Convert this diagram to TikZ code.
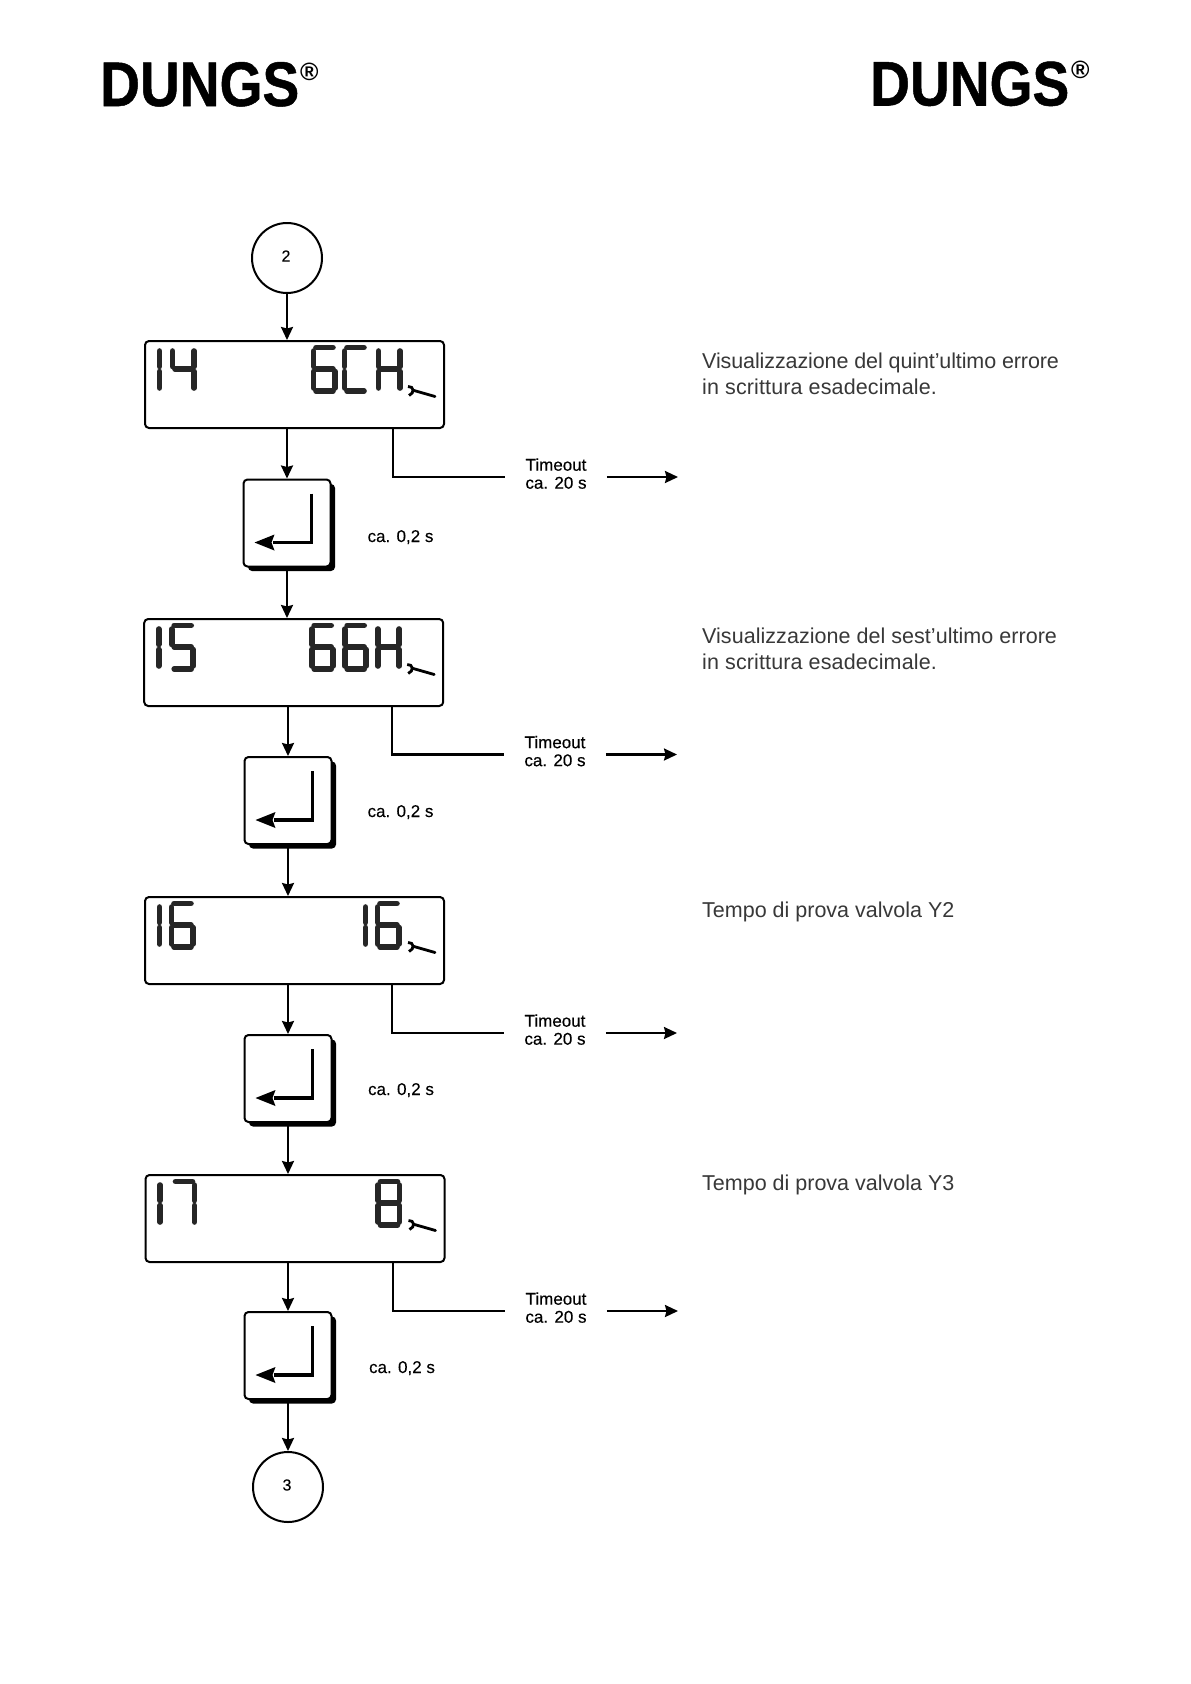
\documentclass[tikz,border=0pt]{standalone}
\usepackage{fontspec}
\setmainfont{Liberation Sans}
\newfontfamily\lblfont[FakeBold=0.4]{Liberation Sans}
\newfontfamily\midfont[FakeBold=0.15]{Liberation Sans}
\newfontfamily\logofont[FakeBold=0.8]{Liberation Sans Bold}
\usetikzlibrary{arrows.meta,shadows}
\definecolor{lighttext}{gray}{0.22}
\tikzset{
  x=1pt,y=-1pt,
  wire/.style={line width=2.2pt,draw=black},
  arrowwire/.style={wire,-{Stealth[length=13pt,width=12pt,inset=1.5pt]}},
  disp/.style={draw=black,line width=2pt,rounded corners=4pt,fill=white,minimum width=299pt,minimum height=87pt,inner sep=0pt},
  keybox/.style={draw=black,line width=2pt,rounded corners=4pt,fill=white,minimum width=87pt,minimum height=87pt,inner sep=0pt,
    general shadow={fill=black,shadow xshift=4.5pt,shadow yshift=-4.5pt}},
  conn/.style={draw=black,circle,line width=2pt,minimum size=70pt,inner sep=0pt},
  connlabel/.style={inner sep=0pt,font=\midfont\fontsize{16}{18}\selectfont},
  seg/.style={line width=5.6pt,line cap=round,draw=black!85},
  tlabel/.style={align=center,inner xsep=20pt,inner ysep=0pt,text depth=7pt,font=\lblfont\fontsize{17}{18}\selectfont},
  tlabelbase/.style={anchor=base,inner sep=0pt,font=\midfont\fontsize{17}{20}\selectfont},
  note/.style={anchor=base west,inner sep=0pt,text=lighttext,font=\fontsize{21.5}{26}\selectfont},
  logo/.style={anchor=base west,inner sep=0pt,xscale=.875,font=\logofont\fontsize{63}{70}\selectfont},
  rmark/.style={anchor=base west,inner sep=0pt,font=\bfseries\fontsize{25}{28}\selectfont},
}
\newcommand\sgA{\draw[seg] (5,2.5)--(22,2.5);}
\newcommand\sgB{\draw[seg] (24,6)--(24,21.5);}
\newcommand\sgC{\draw[seg] (24,26.5)--(24,43);}
\newcommand\sgD{\draw[seg] (5,46)--(22,46);}
\newcommand\sgE{\draw[seg] (2.5,26.5)--(2.5,43);}
\newcommand\sgF{\draw[seg] (2.5,6)--(2.5,21.5);}
\newcommand\sgG{\draw[seg] (5,24)--(22,24);}
\newcommand\dg[2]{\begin{scope}[shift={(#1,5)}]#2\end{scope}}
\newcommand\dOne[1]{\dg{#1}{\sgF\sgE}}
\newcommand\dFour[1]{\dg{#1}{\sgF\sgG\sgB\sgC}}
\newcommand\dFive[1]{\dg{#1}{\sgA\sgF\sgG\sgC\sgD}}
\newcommand\dSix[1]{\dg{#1}{\sgA\sgF\sgG\sgC\sgD\sgE}}
\newcommand\dSeven[1]{\dg{#1}{\sgA\sgB\sgC}}
\newcommand\dEight[1]{\dg{#1}{\sgA\sgB\sgC\sgD\sgE\sgF\sgG}}
\newcommand\dCee[1]{\dg{#1}{\sgA\sgF\sgE\sgD}}
\newcommand\dAitch[1]{\dg{#1}{\sgF\sgE\sgB\sgC\sgG}}
\newcommand\spanner{%
  \draw[line width=2.8pt,line cap=round] (270,50.5)--(291,56.5);
  \draw[line width=2.8pt] (264,46.5) .. controls (270,46) and (271,53) .. (265,55.5);}
\newcommand\retsym{%
  \draw[line width=3.2pt] (69,15)--(69,64)--(30,64);
  \fill (12,64)--(32,56)--(29,64)--(32,72)--cycle;}
\begin{document}
\begin{tikzpicture}
\useasboundingbox (0,0) rectangle (1191,1684);
\fill[white] (0,0) rectangle (1191,1684);

% logos
\node[logo] (logoa) at (100,106) {DUNGS};
\node[rmark] (rega) at (300,80) {®};
\node[logo] (logob) at (870,105.5) {DUNGS};
\node[rmark] (regb) at (1071,78.5) {®};

% flow nodes
\node[conn] (c2) at (287,258) {};
\node[connlabel] (c2t) at (286,256) {2};
\node[disp] (d14) at (294.5,384.5) {};
\node[keybox] (k1) at (287,523) {};
\node[disp] (d15) at (293.7,662.5) {};
\node[keybox] (k2) at (288,800.5) {};
\node[disp] (d16) at (294.5,940.5) {};
\node[keybox] (k3) at (288,1078.5) {};
\node[disp] (d17) at (295,1218.5) {};
\node[keybox] (k4) at (288,1355.5) {};
\node[conn] (c3) at (288,1487) {};
\node[connlabel] (c3t) at (287,1485) {3};

% display contents
\begin{scope}[shift={(d14.north west)}]
  \dOne{13}\dFour{26}\dSix{167}\dCee{198}\dAitch{232}\spanner
\end{scope}
\begin{scope}[shift={(d15.north west)}]
  \dOne{13}\dFive{26}\dSix{166}\dSix{199}\dAitch{232}\spanner
\end{scope}
\begin{scope}[shift={(d16.north west)}]
  \dOne{13}\dSix{25}\dOne{219}\dSix{231}\spanner
\end{scope}
\begin{scope}[shift={(d17.north west)}]
  \dOne{13}\dSeven{26}\dEight{231}\spanner
\end{scope}

% return symbols
\begin{scope}[shift={(k1.north west)}]\retsym\end{scope}
\begin{scope}[shift={(k2.north west)}]\retsym\end{scope}
\begin{scope}[shift={(k3.north west)}]\retsym\end{scope}
\begin{scope}[shift={(k4.north west)}]\retsym\end{scope}

% vertical connectors
\draw[arrowwire] (c2.south) -- (c2.south |- d14.north);
\draw[arrowwire] (k1.north |- d14.south) -- (k1.north);
\draw[arrowwire] (k1.south) -- (k1.south |- d15.north);
\draw[arrowwire] (k2.north |- d15.south) -- (k2.north);
\draw[arrowwire] (k2.south) -- (k2.south |- d16.north);
\draw[arrowwire] (k3.north |- d16.south) -- (k3.north);
\draw[arrowwire] (k3.south) -- (k3.south |- d17.north);
\draw[arrowwire] (k4.north |- d17.south) -- (k4.north);
\draw[arrowwire] (k4.south) -- (c3.north);

% timeout labels
\node[tlabel] (t1) at (556,477) {Timeout\\ca. 20 s};
\node[tlabel] (t2) at (555,754.5) {Timeout\\ca. 20 s};
\node[tlabel] (t3) at (555,1033) {Timeout\\ca. 20 s};
\node[tlabel] (t4) at (556,1311) {Timeout\\ca. 20 s};
\coordinate (s1) at (393,428);
\coordinate (s2) at (392,706);
\coordinate (s3) at (392,984);
\coordinate (s4) at (393,1262);
\coordinate (e1) at (678,477);
\coordinate (e2) at (677,754.5);
\coordinate (e3) at (677,1033);
\coordinate (e4) at (678,1311);
\draw[wire] (s1) |- (t1.west);
\draw[wire] (s2) |- (t2.west);
\draw[wire] (s3) |- (t3.west);
\draw[wire] (s4) |- (t4.west);
\draw[arrowwire] (t1.east) -- (e1);
\draw[arrowwire] (t2.east) -- (e2);
\draw[arrowwire] (t3.east) -- (e3);
\draw[arrowwire] (t4.east) -- (e4);

% key time labels
\node[tlabelbase] (p1) at (400.5,542) {ca. 0,2 s};
\node[tlabelbase] (p2) at (400.5,817) {ca. 0,2 s};
\node[tlabelbase] (p3) at (401,1095) {ca. 0,2 s};
\node[tlabelbase] (p4) at (402,1373) {ca. 0,2 s};

% notes
\node[note] (n1a) at (702,368.5) {\addfontfeature{LetterSpace=-0.5}Visualizzazione del quint'ultimo errore};
\node[note] (n1b) at (702,394.5) {\addfontfeature{LetterSpace=0.6}in scrittura esadecimale.};
\node[note] (n2a) at (702,643) {\addfontfeature{LetterSpace=0.2}Visualizzazione del sest'ultimo errore};
\node[note] (n2b) at (702,669) {\addfontfeature{LetterSpace=0.6}in scrittura esadecimale.};
\node[note] (n3) at (702,917) {Tempo di prova valvola Y2};
\node[note] (n4) at (702,1190) {Tempo di prova valvola Y3};
\end{tikzpicture}
\end{document}
